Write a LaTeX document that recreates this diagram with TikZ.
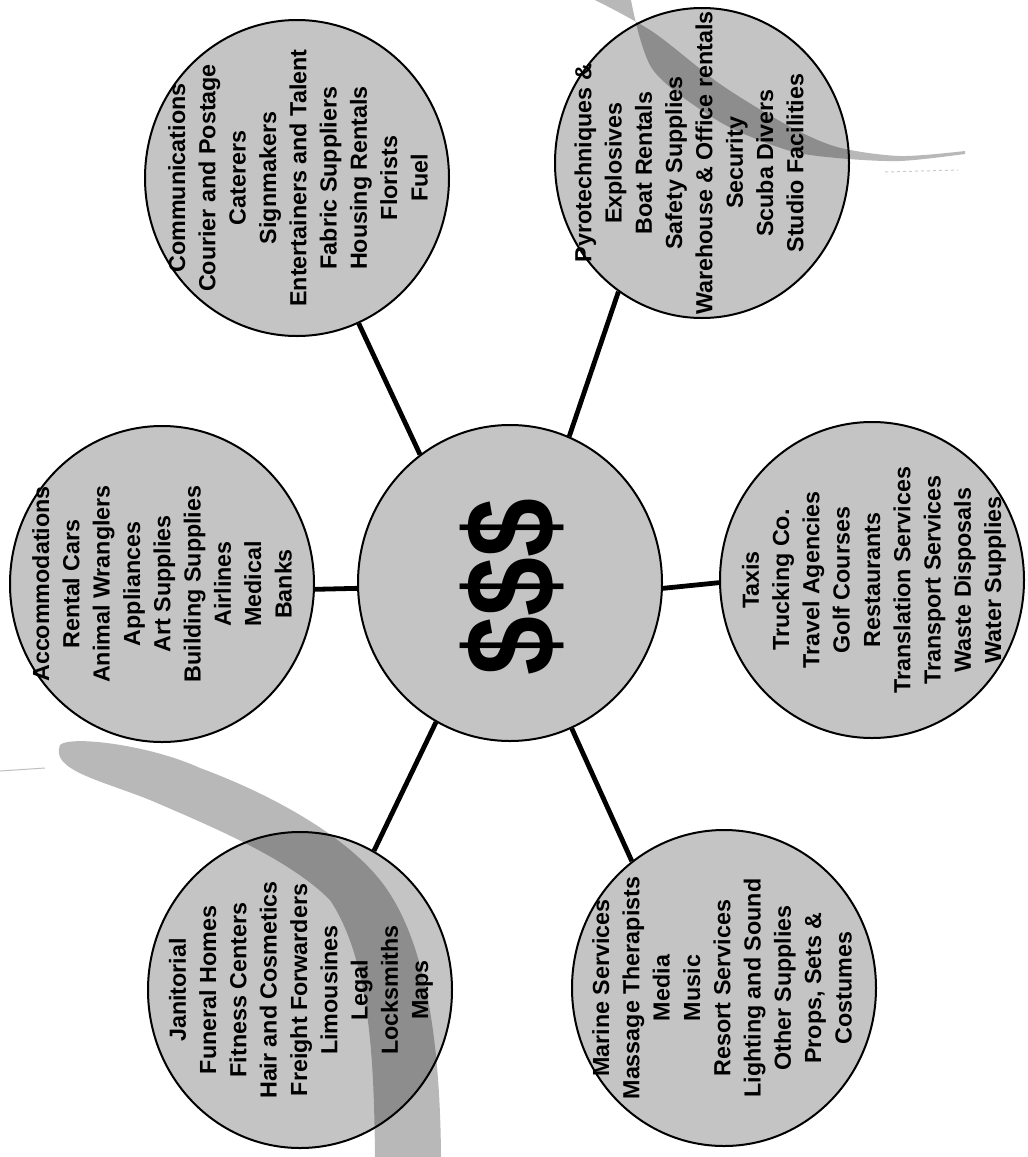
\documentclass[tikz,border=0pt]{standalone}
\usepackage{fontspec}
\setmainfont{Liberation Sans}
\usetikzlibrary{shapes.geometric}
\definecolor{discgray}{RGB}{196,196,196}
\begin{document}
\begin{tikzpicture}[x=1pt,y=-1pt,
  disc/.style={ellipse, draw=black, line width=2pt, fill=discgray,
    minimum width=304pt, minimum height=316pt, inner sep=0pt},
  lbl/.style={rotate=90, align=center, inner sep=0pt,
    font=\fontsize{23.3}{30.3}\selectfont\bfseries},
  link/.style={line width=4.8pt},
  swoosh/.style={fill=black, opacity=0.28}]
\useasboundingbox[fill=white] (0,0) rectangle (1028,1157);

% discs
\node[disc] (hub) at (510,583) {};
\node[disc] (comm) at (297,178) {};
\node[disc, minimum width=294pt, minimum height=310pt] (pyro) at (702,163) {};
\node[disc] (accom) at (162,584) {};
\node[disc] (taxi) at (872,580) {};
\node[disc] (jan) at (300,990) {};
\node[disc] (marine) at (724,988) {};

% connectors
\draw[link] (comm.293) -- (hub.125);
\draw[link] (pyro.237) -- (hub.68);
\draw[link] (accom.-2) -- (hub.182);
\draw[link] (hub.-2) -- (taxi.181);
\draw[link] (jan.62) -- (hub.242);
\draw[link] (hub.293) -- (marine.126);

% background swooshes
\fill[swoosh] (60,745) .. controls (70,735) and (150,745) .. (200,768)
  .. controls (260,790) and (340,830) .. (380,880)
  .. controls (420,930) and (440,1020) .. (441,1157)
  -- (375,1157)
  .. controls (374,1060) and (370,960) .. (330,900)
  .. controls (290,860) and (220,830) .. (150,800)
  .. controls (100,780) and (50,770) .. (60,745) -- cycle;
\fill[swoosh] plot[smooth] coordinates {(595,0) (653,32) (720,84) (787,125) (837,147) (900,156) (965,151)}
  -- plot[smooth] coordinates {(965,154) (900,161) (837,158) (787,150) (720,122) (653,70) (631,0)} -- cycle;
\draw[black!25, line width=1pt] (0,771) -- (45,768);
\draw[black!20, line width=1pt, dashed] (885,172) -- (958,170);

% texts
\node[rotate=90, inner sep=0pt, font=\fontsize{106}{110}\selectfont\bfseries] (money) at (512,587) {\scalebox{1}[1.2]{\$\$\$}};
\node[lbl] (commtext) at (298,178) {Communications\\Courier and Postage\\Caterers\\Signmakers\\Entertainers and Talent\\Fabric Suppliers\\Housing Rentals\\Florists\\Fuel};
\node[lbl] (pyrotext) at (689,163) {Pyrotechniques \&\\Explosives\\Boat Rentals\\Safety Supplies\\Warehouse \& Office rentals\\Security\\Scuba Divers\\Studio Facilities};
\node[lbl] (accomtext) at (162,584) {Accommodations\\Rental Cars\\Animal Wranglers\\Appliances\\Art Supplies\\Building Supplies\\Airlines\\Medical\\Banks};
\node[lbl] (taxitext) at (874,580) {Taxis\\Trucking Co.\\Travel Agencies\\Golf Courses\\Restaurants\\Translation Services\\Transport Services\\Waste Disposals\\Water Supplies};
\node[lbl] (jantext) at (301,990) {Janitorial\\Funeral Homes\\Fitness Centers\\Hair and Cosmetics\\Freight Forwarders\\Limousines\\Legal\\Locksmiths\\Maps};
\node[lbl] (marinetext) at (722,988) {Marine Services\\Massage Therapists\\Media\\Music\\Resort Services\\Lighting and Sound\\Other Supplies\\Props, Sets \&\\Costumes};
\end{tikzpicture}
\end{document}
